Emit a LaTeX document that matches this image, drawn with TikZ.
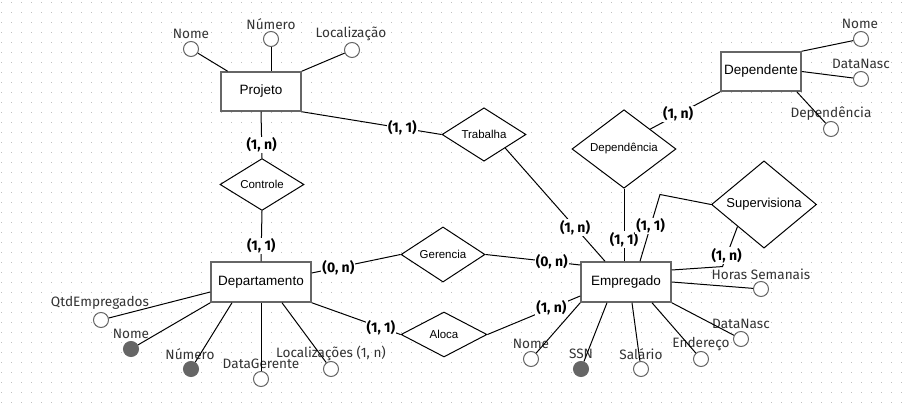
\documentclass[tikz,border=0pt]{standalone}
\usepackage{fontspec}
\setmainfont{Liberation Sans}
\newfontfamily\firafont{Fira Sans}
\usetikzlibrary{shapes.geometric}

\begin{document}
\begin{tikzpicture}[x=1pt, y=-1pt,
	ent/.style={draw=black!60, line width=1.5pt, fill=white, minimum width=80pt, minimum height=39pt, inner sep=0pt, font=\fontsize{13.5}{16}\selectfont},
	rel/.style={diamond, draw, line width=1pt, fill=white, minimum width=84pt, minimum height=45pt, inner sep=0pt, font=\fontsize{11.5}{14}\selectfont},
	attr/.style={circle, draw=black!60, line width=1pt, fill=white, minimum size=15pt, inner sep=0pt},
	key/.style={attr, fill=black!60},
	albl/.style={inner sep=0pt, text=black!80, font=\firafont\fontsize{13.6}{16}\selectfont},
	card/.style={inner sep=1pt, fill=white, font=\firafont\bfseries\fontsize{14}{16}\selectfont},
	conn/.style={line width=1pt}]
	\useasboundingbox (0,0) rectangle (903,411);
	\fill[white] (0,0) rectangle (903,411);
	\foreach \i in {0,...,90}
		\foreach \j in {0,...,40}
			\fill[black!25] (\i*10+1,\j*10+2) rectangle ++(1,1);

	% entidades
	\node[ent] (proj) at (261,91.5) {Projeto};
	\node[ent, minimum width=100pt, minimum height=40pt] (dep) at (261,282) {Departamento};
	\node[ent, minimum width=90pt, minimum height=40pt] (emp) at (626,282) {Empregado};
	\node[ent] (depnt) at (761,71.5) {Dependente};

	% relacionamentos
	\node[rel] (trab) at (484,134.5) {Trabalha};
	\node[rel] (ctrl) at (262,184.5) {Controle};
	\node[rel] (ger) at (443,254.5) {Gerencia};
	\node[rel, minimum width=86pt] (aloca) at (444,334.5) {Aloca};
	\node[rel, minimum width=104pt, minimum height=54pt] (depc) at (624,149) {Dependência};
	\node[rel, minimum width=105pt, minimum height=65pt, font=\fontsize{13}{15}\selectfont] (sup) at (764,204.5) {Supervisiona};

	% atributos de Projeto
	\node[attr] (pNome) at (191,49) {};
	\node[albl] (pNomeL) at (191,34) {Nome};
	\node[attr] (pNum) at (271,39) {};
	\node[albl] (pNumL) at (271,24) {Número};
	\node[attr] (pLoc) at (352,50) {};
	\node[albl] (pLocL) at (351,34) {Localização};
	\draw[conn] (pNome) -- (proj);
	\draw[conn] (pNum) -- (pNum |- proj.north);
	\draw[conn] (pLoc) -- (proj.north east);

	% atributos de Departamento
	\node[attr] (dQtd) at (101,320) {};
	\node[albl] (dQtdL) at (100,303) {QtdEmpregados};
	\node[key] (dNome) at (131,349) {};
	\node[albl] (dNomeL) at (131,334) {Nome};
	\node[key] (dNum) at (191,369) {};
	\node[albl] (dNumL) at (190,354) {Número};
	\node[attr] (dData) at (261,379) {};
	\node[albl] (dDataL) at (261,364) {DataGerente};
	\node[attr] (dLoc) at (331,369) {};
	\node[albl] (dLocL) at (331,353) {Localizações (1, n)};
	\draw[conn] (dQtd) -- ([yshift=-10pt]dep.west);
	\draw[conn] (dNome) -- (dep.south west);
	\draw[conn] (dNum) -- ([xshift=-29pt]dep.south);
	\draw[conn] (dData) -- (dep.south);
	\draw[conn] (dLoc) -- ([xshift=21pt]dep.south);

	% atributos de Empregado
	\node[attr] (eNome) at (531,359) {};
	\node[albl] (eNomeL) at (531,344) {Nome};
	\node[key] (eSSN) at (581,369) {};
	\node[albl] (eSSNL) at (581,354) {SSN};
	\node[attr] (eSal) at (641,369) {};
	\node[albl] (eSalL) at (641,354) {Salário};
	\node[attr] (eEnd) at (701,359) {};
	\node[albl] (eEndL) at (701,344) {Endereço};
	\node[attr] (eNasc) at (741,339) {};
	\node[albl] (eNascL) at (741,324) {DataNasc};
	\node[attr] (eHoras) at (761,289) {};
	\node[albl] (eHorasL) at (761,274) {Horas Semanais};
	\draw[conn] (eNome) -- (emp.south west);
	\draw[conn] (eSSN) -- ([xshift=-19pt]emp.south);
	\draw[conn] (eSal) -- ([xshift=6pt]emp.south);
	\draw[conn] (eEnd) -- ([xshift=26pt]emp.south);
	\draw[conn] (eNasc) -- (emp.south east);
	\draw[conn] (eHoras) -- (emp.east);

	% atributos de Dependente
	\node[attr] (nNome) at (861,39) {};
	\node[albl] (nNomeL) at (860,24) {Nome};
	\node[attr] (nNasc) at (861,79) {};
	\node[albl] (nNascL) at (861,64) {DataNasc};
	\node[attr] (nDep) at (831,129) {};
	\node[albl] (nDepL) at (831,114) {Dependência};
	\draw[conn] (nNome) -- (depnt.north east);
	\draw[conn] (nNasc) -- (depnt.east);
	\draw[conn] (nDep) -- ([xshift=-5pt]depnt.south east);

	% ligacoes com cardinalidade
	\draw[conn] (proj.south east) -- node[card, pos=0.72] (cPT) {(1, 1)} (trab.west);
	\draw[conn] (trab.south east) -- node[card, pos=0.7] (cTE) {(1, n)} ([xshift=-21pt]emp.north);
	\draw[conn] (proj.south) -- node[card, pos=0.72] (cPC) {(1, n)} (ctrl.north);
	\draw[conn] (ctrl.south) -- node[card, pos=0.7] (cCD) {(1, 1)} (dep.north);
	\draw[conn] ([yshift=9pt]dep.east) -- node[card, pos=0.3] (cDG) {(0, n)} (ger.west);
	\draw[conn] (ger.east) -- node[card, pos=0.7] (cGE) {(0, n)} ([yshift=17pt]emp.west);
	\draw[conn] (dep.south east) -- node[card, pos=0.78] (cDA) {(1, 1)} (aloca.west);
	\draw[conn] (aloca.east) -- node[card, pos=0.69] (cAE) {(1, n)} ([yshift=-14pt]emp.west);
	\draw[conn] (depnt.south west) -- node[card, pos=0.6] (cNC) {(1, n)} (depc.north east);
	\draw[conn] (depc.south) -- node[card, pos=0.7] (cCE) {(1, 1)} (depc.south |- emp.north);
	\draw[conn] (sup.west) -- ++(-51,-10) -- node[card, pos=0.47] (cSE) {(1, 1)} ([xshift=14pt]emp.north);
	\draw[conn] (sup.south west) -- node[card, pos=0.72] (cSN) {(1, n)} ++(-15,40) -- ([yshift=12pt]emp.east);
\end{tikzpicture}
\end{document}
